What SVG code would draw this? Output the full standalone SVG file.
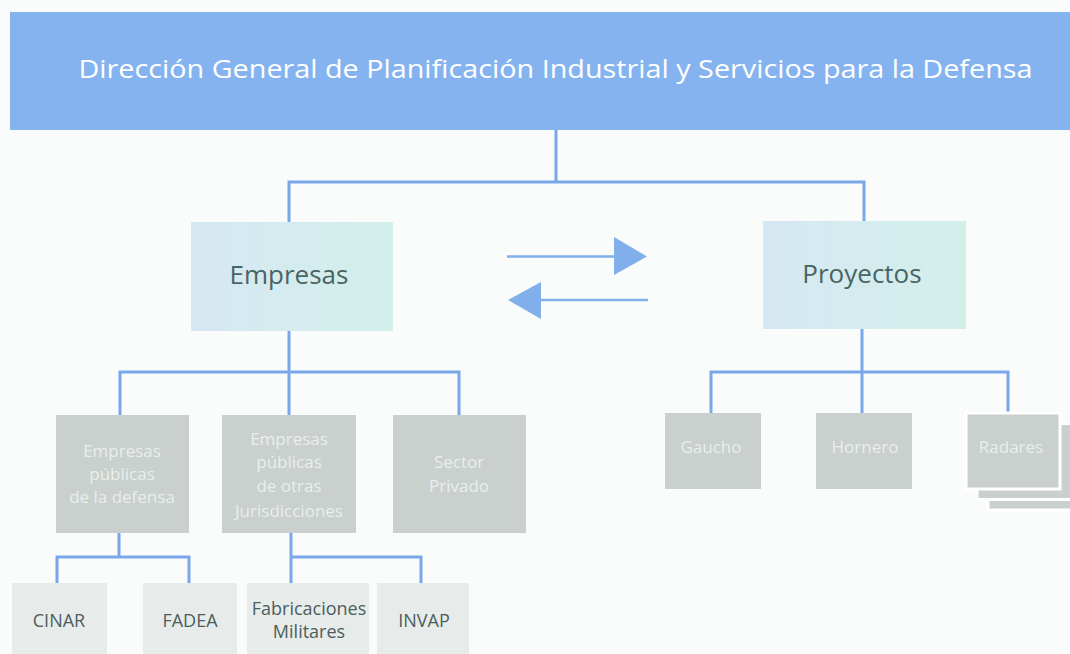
<svg xmlns="http://www.w3.org/2000/svg" width="1070" height="654" viewBox="0 0 1070 654">
<defs>
<linearGradient id="gMain" x1="0" y1="0" x2="1" y2="0">
<stop offset="0" stop-color="#d6e8f3"/>
<stop offset="1" stop-color="#d3efea"/>
</linearGradient>
</defs>
<style>
text{font-family:"Open Sans","Noto Sans","DejaVu Sans",sans-serif;text-anchor:middle}
.hdr{fill:#85b3f0}
.title{fill:#ffffff;font-size:26px}
.main{fill:url(#gMain)}
.mainT{fill:#4a6464;font-size:26px}
.grey{fill:#c9d0cd}
.greyT{fill:#e9eeec;font-size:17px}
.leaf{fill:#e7ecea}
.leafT{fill:#4b5e5e;font-size:18px}
.conn line,.conn polyline{stroke:#78a8ea;stroke-width:3;fill:none}
.arr line{stroke:#80afec;stroke-width:2.5}
.arr polygon{fill:#80afec}
.stack{stroke:#ffffff;stroke-width:3}
</style>
<rect x="0" y="0" width="1070" height="654" fill="#fafbfb"/>

<g id="connectors" class="conn">
<line x1="556" y1="130" x2="556" y2="182"/>
<polyline points="289,222 289,182 864,182 864,221"/>
<line x1="289" y1="331" x2="289" y2="372"/>
<polyline points="120,415 120,372 459,372 459,415"/>
<line x1="289" y1="372" x2="289" y2="415"/>
<line x1="119" y1="533" x2="119" y2="557"/>
<polyline points="57,583 57,557 189,557 189,583"/>
<line x1="291" y1="533" x2="291" y2="583"/>
<polyline points="291,557 421,557 421,583"/>
<line x1="862" y1="329" x2="862" y2="372"/>
<polyline points="711,413 711,372 1008,372 1008,414"/>
<line x1="862" y1="372" x2="862" y2="413"/>
</g>

<g id="arrows" class="arr">
<line x1="507" y1="256.5" x2="616" y2="256.5"/>
<polygon points="614,237 647,256.5 614,275"/>
<line x1="540" y1="300" x2="648" y2="300"/>
<polygon points="541,282 508,300 541,319"/>
</g>

<g id="n-direccion">
<rect class="hdr" x="10" y="12" width="1060" height="118"/>
<text class="title" x="555.5" y="78" textLength="954" lengthAdjust="spacingAndGlyphs">Dirección General de Planificación Industrial y Servicios para la Defensa</text>
</g>

<g id="n-empresas">
<rect class="main" x="191" y="222" width="202" height="109"/>
<text class="mainT" x="289" y="284">Empresas</text>
</g>

<g id="n-proyectos">
<rect class="main" x="763" y="221" width="203" height="108"/>
<text class="mainT" x="862" y="283">Proyectos</text>
</g>

<g id="n-epd">
<rect class="grey" x="56" y="415" width="133" height="118"/>
<text class="greyT" x="122" y="457">Empresas</text>
<text class="greyT" x="122" y="480">públicas</text>
<text class="greyT" x="122" y="503">de la defensa</text>
</g>

<g id="n-epoj">
<rect class="grey" x="222" y="415" width="134" height="118"/>
<text class="greyT" x="289" y="445">Empresas</text>
<text class="greyT" x="289" y="468">públicas</text>
<text class="greyT" x="289" y="492">de otras</text>
<text class="greyT" x="289" y="517">Jurisdicciones</text>
</g>

<g id="n-sector">
<rect class="grey" x="393" y="415" width="133" height="118"/>
<text class="greyT" x="459" y="468">Sector</text>
<text class="greyT" x="459" y="492">Privado</text>
</g>

<g id="n-cinar">
<rect class="leaf" x="12" y="583" width="95" height="71"/>
<text class="leafT" x="59" y="627">CINAR</text>
</g>

<g id="n-fadea">
<rect class="leaf" x="143" y="583" width="94" height="71"/>
<text class="leafT" x="190" y="627">FADEA</text>
</g>

<g id="n-fm">
<rect class="leaf" x="247" y="583" width="122" height="71"/>
<text class="leafT" x="309" y="615">Fabricaciones</text>
<text class="leafT" x="309" y="638">Militares</text>
</g>

<g id="n-invap">
<rect class="leaf" x="377" y="583" width="92" height="71"/>
<text class="leafT" x="424" y="627">INVAP</text>
</g>

<g id="n-gaucho">
<rect class="grey" x="665" y="413" width="96" height="76"/>
<text class="greyT" x="711" y="453">Gaucho</text>
</g>

<g id="n-hornero">
<rect class="grey" x="816" y="413" width="96" height="76"/>
<text class="greyT" x="865" y="453">Hornero</text>
</g>

<g id="n-radares">
<rect class="grey stack" x="988" y="434" width="96" height="76"/>
<rect class="grey stack" x="977" y="423.5" width="96" height="76"/>
<rect class="grey stack" x="966" y="413" width="94" height="76"/>
<text class="greyT" x="1011" y="453">Radares</text>
</g>
</svg>
